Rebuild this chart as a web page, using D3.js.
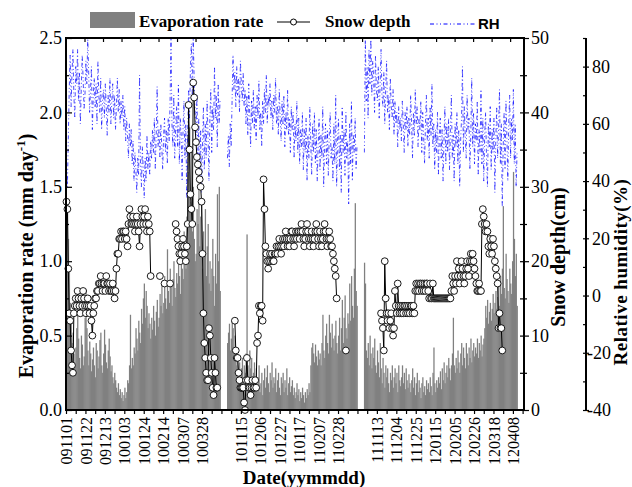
<!DOCTYPE html>
<html>
<head>
<meta charset="utf-8">
<script src="https://cdn.jsdelivr.net/npm/d3@7"></script>
<style>
body { margin: 0; background: white; }
</style>
</head>
<body>
<script>
// day index of the first day of each snow season (gaps between seasons are not drawn)
const seasonStart = [0, 174, 322]

// evaporation rate (mm day-1), one value per day
const evap1 = [
  1.42,1.40,1.15,0.95,0.72,0.58,0.45,0.52,0.38,0.30,
  0.42,0.55,0.74,0.48,0.35,0.28,0.50,0.44,0.30,0.36,
  0.62,0.81,0.55,0.40,0.30,0.46,0.38,0.26,0.34,0.42,
  0.30,0.22,0.45,0.40,0.28,0.36,0.47,0.52,0.30,0.25,
  0.38,0.54,0.44,0.32,0.28,0.40,0.48,0.36,0.26,0.30,
  0.22,0.18,0.25,0.20,0.15,0.12,0.18,0.10,0.14,0.08,
  0.12,0.06,0.10,0.15,0.08,0.12,0.20,0.18,0.30,0.64,
  0.28,0.35,0.30,0.42,0.38,0.55,0.48,0.40,0.60,0.52,
  0.45,0.68,0.58,0.75,0.85,0.62,0.80,0.70,0.55,0.65,
  0.58,0.48,0.62,0.54,0.70,0.60,0.50,0.66,0.74,0.56,
  0.62,0.78,0.70,0.85,0.65,0.72,0.90,0.75,0.68,1.08,
  0.80,0.72,0.95,0.85,0.70,0.88,1.00,0.82,0.76,0.92,
  0.85,1.02,0.90,0.78,1.10,0.95,0.88,1.20,1.05,0.95,
  1.30,1.85,1.60,1.90,1.40,1.75,1.20,1.50,1.15,1.00,
  1.05,1.35,1.25,1.48,1.10,1.30,1.40,0.95,1.20,1.05,
  1.35,0.90,1.10,1.25,0.85,1.00,0.80,0.95,1.15,0.90,
  0.70,1.05,0.85,1.45,1.00,1.50,0.80]
const evap2 = [
  0.45,0.52,0.58,0.40,0.48,0.60,0.55,0.42,0.50,0.38,
  0.30,0.35,0.25,0.32,0.22,0.28,0.35,0.20,0.30,0.25,
  0.38,1.18,0.30,0.22,0.40,0.28,0.35,0.18,0.25,0.32,
  0.20,0.28,0.15,0.22,0.30,0.12,0.18,0.25,0.10,0.20,
  0.28,0.15,0.22,0.30,0.18,0.12,0.25,0.20,0.32,0.15,
  0.22,0.18,0.28,0.12,0.20,0.25,0.15,0.10,0.22,0.18,
  0.25,0.12,0.20,0.15,0.28,0.10,0.18,0.22,0.12,0.16,
  0.20,0.10,0.15,0.08,0.12,0.18,0.10,0.14,0.06,0.12,
  0.08,0.15,0.10,0.05,0.12,0.08,0.14,0.10,0.18,0.12,
  0.30,0.42,0.45,0.38,0.32,0.44,0.36,0.30,0.40,0.34,
  0.38,0.30,0.45,0.64,0.40,0.35,0.50,0.58,0.45,0.38,
  0.64,0.52,0.42,0.58,0.48,0.40,0.50,0.60,0.45,0.38,
  0.50,0.62,0.40,0.55,0.74,0.45,0.62,0.77,0.55,0.48,
  0.65,0.58,0.85,0.60,0.90,0.70,0.62,0.95,1.39,0.80,
  0.70]
const evap3 = [
  0.99,0.85,0.40,0.35,0.45,0.30,0.50,0.38,0.28,0.42,
  0.35,0.48,0.30,0.25,0.40,0.32,0.22,0.45,0.28,0.18,
  0.35,0.25,0.15,0.30,0.22,0.28,0.18,0.12,0.25,0.20,
  0.30,0.15,0.22,0.28,0.18,0.25,0.12,0.30,0.20,0.16,
  0.22,0.30,0.18,0.25,0.14,0.28,0.20,0.15,0.24,0.18,
  0.12,0.20,0.28,0.15,0.22,0.10,0.18,0.25,0.12,0.20,
  0.15,0.08,0.18,0.22,0.12,0.16,0.10,0.20,0.14,0.18,
  0.12,0.22,0.16,0.10,0.25,0.42,0.18,0.12,0.20,0.15,
  0.22,0.18,0.26,0.14,0.28,0.20,0.32,0.18,0.25,0.30,
  0.22,0.35,0.28,0.20,0.30,0.38,0.62,0.30,0.25,0.35,
  0.28,0.40,0.32,0.25,0.38,0.45,0.30,0.42,0.35,0.28,
  0.45,0.38,0.30,0.42,0.35,0.48,0.32,0.40,0.45,0.36,
  0.42,0.38,0.48,0.35,0.45,0.40,0.50,0.36,0.44,0.48,
  0.55,0.70,0.62,0.74,0.58,0.66,0.72,0.60,0.68,0.78,
  0.65,0.72,0.80,0.68,0.76,0.85,0.70,0.90,0.78,0.95,
  1.37,0.82,0.75,1.05,0.88,0.80,0.72,0.95,0.85,0.78,
  1.00,1.60,1.15,0.90,1.05,0.70]

// relative humidity (%)
const rh1 = [
  45,38,55,72,84,66,78,86,70,62, 80,74,86,68,78,60,72,84,76,65,
  70,82,74,90,78,64,72,80,58,70, 76,66,74,60,82,70,64,76,58,68,
  72,62,74,66,56,70,64,76,60,68, 74,62,70,58,66,76,64,72,60,68,
  62,70,58,66,54,62,56,48,60,52, 58,46,54,40,50,44,36,48,42,77,
  46,38,52,44,34,48,40,56,44,50, 42,54,48,58,50,62,44,56,73,52,
  58,48,60,52,44,56,62,50,58,46, 62,54,68,90,60,52,70,48,58,66,
  52,74,46,62,56,40,58,68,48,60, 34,56,72,62,80,88,70,90,76,64,
  56,70,48,62,40,58,36,52,66,44, 60,48,68,56,40,62,72,50,66,58,
  80,62,70,52,74,60,68]
const rh2 = [
  48,56,45,60,52,68,84,72,78,66, 80,70,76,64,82,74,68,78,66,72,
  60,70,56,74,64,52,68,60,72,58, 66,54,70,62,75,58,64,52,68,60,
  72,64,77,60,70,66,74,62,68,58, 70,64,76,60,66,56,72,62,54,68,
  60,70,52,64,58,72,56,62,50,66, 58,64,48,60,54,68,50,62,46,58,
  52,64,44,58,50,62,40,56,48,66, 54,42,60,50,64,46,58,40,52,62,
  44,56,48,66,38,54,60,46,58,42, 56,64,48,52,40,60,46,70,38,54,
  62,44,56,36,66,50,58,42,64,48, 54,32,60,46,68,40,56,50,62,44,
  52]
const rh3 = [
  50,90,68,80,62,86,74,90,70,82, 76,64,84,72,68,80,62,74,86,70,
  66,78,60,72,82,64,70,58,76,66, 62,72,56,68,60,64,52,66,58,62,
  54,68,60,50,64,58,66,52,62,56, 70,60,48,64,56,72,60,66,52,62,
  58,68,50,64,56,46,60,70,54,62, 48,66,56,74,52,60,44,58,50,64,
  42,56,62,48,58,40,54,66,46,60, 50,62,44,58,70,48,56,40,60,52,
  64,46,58,38,54,62,80,50,66,56, 48,70,58,62,44,56,76,52,64,46,
  60,54,68,42,58,50,72,46,62,40, 56,64,48,38,60,52,66,44,58,50,
  62,36,54,66,48,58,72,46,60,31, 52,64,44,68,56,40,60,70,48,62,
  54,72,46,60,38,50]

// snow depth (cm), null = no observation
const _ = null
const snow1 = [
  28,27,19,13,12,8,6,5,
  13,14,15,14,16,15,14,13,15,14,16,15,14,13,14,15,14,13,14,12,10,13,14,15,
  15,16,16,17,17,18,17,16,17,17,16,18,17,17,16,17,16,16,17,16,15,16,
  19,21,21,
  23,23,24,23,24,24,23,24,23,22,
  25,27,26,25,25,26,25,24,25,26,25,24,22,25,27,26,25,26,27,25,24,26,25,24,
  18,_,_,_,_,_,_,_,_,_,18,_,_,_,_,17,_,_,_,_,_,17,_,_,_,_,_,
  25,24,23,22,21,20,21,22,23,22,21,20,22,25,
  41,35,29,27,25,
  44,42,38,36,34,33,32,31,30,28,21,13,9,
  7,5,4,4,11,10,7,5,3,2,7,5,3,3,
  _,_,_]
const snow2 = [
  _,_,_,_,_,_,_,_,
  12,8,7,7,5,4,3,3,3,3,1,0,4,7,4,3,3,2,3,4,3,3,4,3,
  9,10,14,13,14,14,12,
  31,27,22,
  21,20,19,20,21,20,21,20,20,21,21,22,21,22,23,22,21,22,23,22,23,24,23,22,23,22,23,24,24,23,22,23,24,23,24,24,
  23,24,25,24,23,22,23,24,25,24,23,22,23,24,23,22,23,24,25,24,23,22,24,23,22,23,24,25,24,23,22,23,24,23,22,
  22,21,20,19,18,15,
  _,_,_,_,_,_,_,_,_,8,_,_,_,_,_,_,_,_,_,_,_,_]
const snow3 = [
  _,_,_,_,_,_,_,_,_,_,_,_,_,_,_,_,_,_,
  13,12,11,8,20,15,13,12,13,11,12,13,11,10,11,
  16,14,13,17,14,13,14,13,14,13,14,14,13,14,13,14,13,14,14,13,14,13,
  16,17,16,17,16,17,17,16,17,16,17,16,17,17,16,
  15,17,15,15,17,15,15,
  15,15,15,15,15,15,15,15,15,15,15,15,15,15,15,15,15,16,
  18,17,16,18,17,20,18,19,17,18,20,19,18,17,18,19,20,19,18,20,21,20,
  21,20,19,18,17,16,16,17,16,16,
  25,27,26,25,24,25,24,22,21,23,22,21,23,22,20,19,18,17,11,13,11,11,8,
  _,_,_,_,_,_,_,_,_,_,_,_,_,_,_,_]

// x axis: day index of labelled ticks (every 21 days) and their labels
const tickPos = [0,21,42,63,84,105,126,147,168,189,210,231,252,273,294,315,336,357,378,399,420,441,462,483]
const tickLabels = ['091101','091122','091213','100103','100124','100214','100307','100328','',
  '101115','101206','101227','110117','110207','110228','',
  '111113','111204','111225','120115','120205','120226','120318','120408']
const evapTicks = [0, 0.5, 1.0, 1.5, 2.0, 2.5]
const snowTicks = [0, 10, 20, 30, 40, 50]
const rhTicks = [-40, -20, 0, 20, 40, 60, 80]

function main(){
    const serif = '"Liberation Serif", "Times New Roman", serif'
    const left = 66, right = 524, top = 38, bottom = 410

    let svg = d3.select('body')
        .append('svg')
        .attr('width', 632)
        .attr('height', 487)
        .attr('style', 'background-color: white')

    let x = d3.scaleLinear().domain([0, 495]).range([left, right])
    let yEvap = d3.scaleLinear().domain([0, 2.5]).range([bottom, top])
    let ySnow = d3.scaleLinear().domain([0, 50]).range([bottom, top])
    let yRH = d3.scaleLinear().domain([-40, 90]).range([bottom, top])
    let bw = x(1) - x(0)

    let seasons = [
        {start: seasonStart[0], evap: evap1, rh: rh1, snow: snow1},
        {start: seasonStart[1], evap: evap2, rh: rh2, snow: snow2},
        {start: seasonStart[2], evap: evap3, rh: rh3, snow: snow3}
    ]
    seasons.forEach(s => {
        s.days = s.evap.map((v, i) => ({i: s.start + i, evap: v, rh: s.rh[i], snow: s.snow[i]}))
    })

    // evaporation bars
    let bars = svg.append('g')
    seasons.forEach(s => {
        bars.selectAll(null)
            .data(s.days)
            .enter()
            .append('rect')
            .attr('x', d => x(d.i))
            .attr('y', d => yEvap(d.evap))
            .attr('width', bw + 0.35)
            .attr('height', d => yEvap(0) - yEvap(d.evap))
            .attr('fill', '#808080')
    })

    // RH line
    let rhLine = d3.line().x(d => x(d.i + 0.5)).y(d => yRH(d.rh))
    seasons.forEach(s => {
        svg.append('path')
            .datum(s.days)
            .attr('d', rhLine)
            .attr('fill', 'none')
            .attr('stroke', '#0000ff')
            .attr('stroke-width', 0.7)
            .attr('stroke-dasharray', '4,2.5,1,2.5,1,2.5')
    })

    // snow depth line + circles
    let snowLine = d3.line().defined(d => d.snow != null).x(d => x(d.i + 0.5)).y(d => ySnow(d.snow))
    seasons.forEach(s => {
        svg.append('path')
            .datum(s.days)
            .attr('d', snowLine)
            .attr('fill', 'none')
            .attr('stroke', 'black')
            .attr('stroke-width', 1)
        svg.append('g').selectAll('circle')
            .data(s.days.filter(d => d.snow != null))
            .enter()
            .append('circle')
            .attr('cx', d => x(d.i + 0.5))
            .attr('cy', d => ySnow(d.snow))
            .attr('r', 3.4)
            .attr('fill', 'white')
            .attr('stroke', 'black')
            .attr('stroke-width', 0.9)
    })

    function style(g, size){
        g.attr('font-family', serif).attr('font-size', size)
        g.selectAll('line').attr('stroke', 'black').attr('stroke-width', 1.2)
        g.selectAll('text')
            .attr('fill', 'black')
            .style('font-family', serif)
            .style('font-size', size + 'px')
    }

    // bottom axis
    let minorX = tickPos.map(d => d + 10.5)
    let gxm = svg.append('g')
        .attr('transform', `translate(0,${bottom})`)
        .call(d3.axisBottom(x).tickValues(minorX).tickSize(4).tickFormat(''))
    gxm.select('.domain').remove()
    style(gxm, 16)
    let gx = svg.append('g')
        .attr('transform', `translate(0,${bottom})`)
        .call(d3.axisBottom(x).tickValues(tickPos).tickSize(4).tickFormat((d, i) => tickLabels[i]))
    gx.select('.domain').remove()
    style(gx, 16)
    gx.selectAll('text')
        .attr('transform', 'rotate(-90)')
        .attr('text-anchor', 'end')
        .attr('x', -7)
        .attr('y', 0)
        .attr('dy', '0.35em')

    // top axis (inside ticks only)
    let gt = svg.append('g')
        .attr('transform', `translate(0,${top})`)
        .call(d3.axisTop(x).tickValues(d3.range(20, 495, 20)).tickSize(-4).tickFormat(''))
    gt.select('.domain').remove()
    style(gt, 10)

    // left axis
    let gym = svg.append('g')
        .attr('transform', `translate(${left},0)`)
        .call(d3.axisLeft(yEvap).tickValues([0.25, 0.75, 1.25, 1.75, 2.25]).tickSize(-3).tickFormat(''))
    gym.select('.domain').remove()
    style(gym, 18)
    let gy = svg.append('g')
        .attr('transform', `translate(${left},0)`)
        .call(d3.axisLeft(yEvap).tickValues(evapTicks).tickSize(-6).tickPadding(4).tickFormat(d3.format('.1f')))
    gy.select('.domain').remove()
    style(gy, 18)

    // right side inner ticks + snow axis
    let gri = svg.append('g')
        .attr('transform', `translate(${right},0)`)
        .call(d3.axisRight(ySnow).tickValues(d3.range(5, 50, 5)).tickSize(-4).tickFormat(''))
    gri.select('.domain').remove()
    style(gri, 18)
    let gsm = svg.append('g')
        .attr('transform', `translate(${right},0)`)
        .call(d3.axisRight(ySnow).tickValues([5, 15, 25, 35, 45]).tickSize(3).tickFormat(''))
    gsm.select('.domain').remove()
    style(gsm, 18)
    let gs = svg.append('g')
        .attr('transform', `translate(${right},0)`)
        .call(d3.axisRight(ySnow).tickValues(snowTicks).tickSize(5).tickPadding(2))
    gs.select('.domain').remove()
    style(gs, 18)

    // plot frame
    svg.append('rect')
        .attr('x', left).attr('y', top)
        .attr('width', right - left).attr('height', bottom - top)
        .attr('fill', 'none')
        .attr('stroke', 'black')
        .attr('stroke-width', 2)

    // RH axis
    const rhX = 586
    let grm = svg.append('g')
        .attr('transform', `translate(${rhX},0)`)
        .call(d3.axisRight(yRH).tickValues([-30, -10, 10, 30, 50, 70, 90]).tickSize(-3).tickSizeOuter(0).tickFormat(''))
    grm.select('.domain').remove()
    style(grm, 18)
    let gr = svg.append('g')
        .attr('transform', `translate(${rhX},0)`)
        .call(d3.axisRight(yRH).tickValues(rhTicks).tickSize(3).tickSizeOuter(0).tickPadding(3).tickFormat(d => String(d)))
    style(gr, 18)
    gr.selectAll('.tick line').attr('x1', -3)
    gr.selectAll('.tick text').filter(d => d < 0).attr('x', 1)
    gr.select('.domain').attr('stroke', 'black').attr('stroke-width', 2)
        .attr('d', `M0,${yRH(90)}V${yRH(-40)}`)

    // axis titles
    let yt = svg.append('text')
        .attr('transform', 'translate(33,256) rotate(-90)')
        .attr('text-anchor', 'middle')
        .attr('font-family', serif)
        .attr('font-size', '20px')
        .attr('font-weight', 'bold')
    yt.append('tspan').text('Evaporation rate (mm day')
    yt.append('tspan').attr('dy', -8).attr('font-size', '13px').text('-1')
    yt.append('tspan').attr('dy', 8).text(')')

    svg.append('text')
        .attr('transform', 'translate(565,257) rotate(-90)')
        .attr('text-anchor', 'middle')
        .attr('font-family', serif)
        .attr('font-size', '20px')
        .attr('font-weight', 'bold')
        .text('Snow depth(cm)')

    svg.append('text')
        .attr('transform', 'translate(627,272) rotate(-90)')
        .attr('text-anchor', 'middle')
        .attr('font-family', serif)
        .attr('font-size', '19px')
        .attr('font-weight', 'bold')
        .attr('letter-spacing', '0.5px')
        .text('Relative humidity(%)')

    svg.append('text')
        .attr('x', 304)
        .attr('y', 484)
        .attr('text-anchor', 'middle')
        .attr('font-family', serif)
        .attr('font-size', '19px')
        .attr('font-weight', 'bold')
        .text('Date(yymmdd)')

    // legend
    svg.append('rect')
        .attr('x', 90).attr('y', 12)
        .attr('width', 45).attr('height', 16)
        .attr('fill', '#808080')
    svg.append('text')
        .attr('x', 139).attr('y', 27)
        .attr('font-family', serif)
        .attr('font-size', '17px')
        .attr('font-weight', 'bold')
        .text('Evaporation rate')
    svg.append('line')
        .attr('x1', 277).attr('x2', 310)
        .attr('y1', 22).attr('y2', 22)
        .attr('stroke', 'black')
    svg.append('circle')
        .attr('cx', 293.5).attr('cy', 22)
        .attr('r', 3)
        .attr('fill', 'white')
        .attr('stroke', 'black')
    svg.append('text')
        .attr('x', 325).attr('y', 27)
        .attr('font-family', serif)
        .attr('font-size', '17px')
        .attr('font-weight', 'bold')
        .text('Snow depth')
    svg.append('line')
        .attr('x1', 430).attr('x2', 475)
        .attr('y1', 24).attr('y2', 24)
        .attr('stroke', '#0000ff')
        .attr('stroke-dasharray', '4,2.5,1,2.5,1,2.5')
    svg.append('text')
        .attr('x', 478).attr('y', 29)
        .attr('font-family', '"Liberation Sans", Arial, sans-serif')
        .attr('font-size', '15px')
        .attr('font-weight', 'bold')
        .text('RH')
}

main()
</script>
</body>
</html>
